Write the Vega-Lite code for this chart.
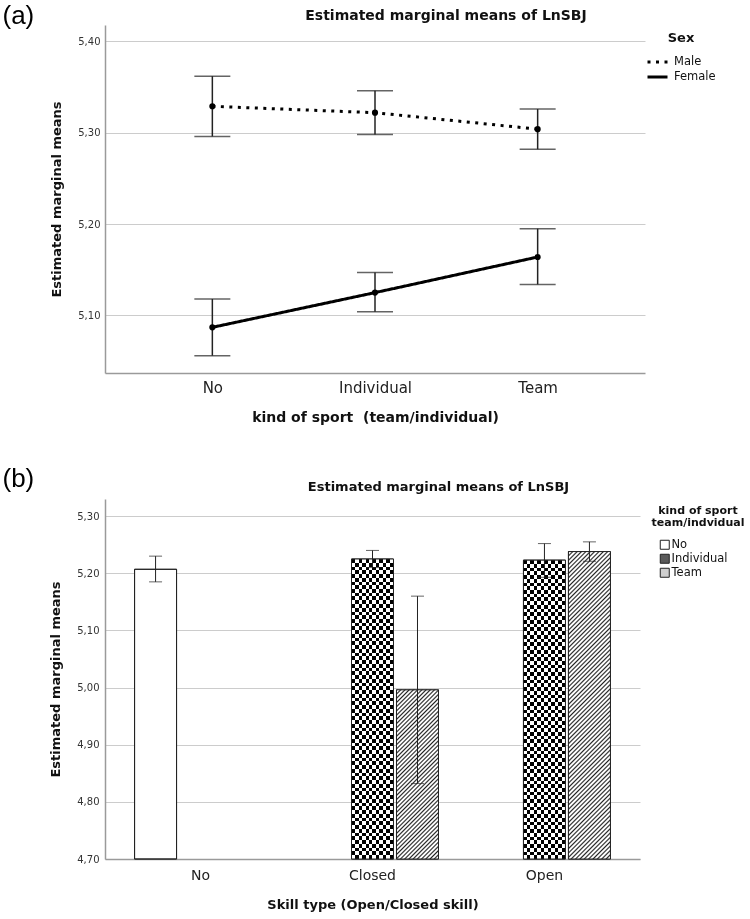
{
  "$schema": "https://vega.github.io/schema/vega-lite/v6.json",
  "padding": {"left": 2, "top": 2, "right": 2, "bottom": 2},
  "background": "white",
  "spacing": 41,
  "resolve": {"legend": {"strokeDash": "independent", "fill": "independent"}},
  "config": {
    "font": "DejaVu Sans",
    "view": {"stroke": null},
    "axis": {"domainColor": "#9a9a9a", "domainWidth": 1.5, "gridColor": "#cccccc", "gridWidth": 1, "labelColor": "#333", "titleColor": "#111", "ticks": false},
    "legend": {"labelColor": "#111", "titleColor": "#111"}
  },
  "vconcat": [
    {
      "width": 540,
      "height": 348,
      "title": {"text": "Estimated marginal means of LnSBJ", "anchor": "middle", "dx": 71, "fontSize": 14, "fontWeight": "bold", "color": "#111", "baseline": "bottom", "offset": -35},
      "data": {"values": [
        {"sex": "Male", "sport": "No", "mean": 5.329, "lo": 5.296, "hi": 5.362},
        {"sex": "Male", "sport": "Individual", "mean": 5.322, "lo": 5.298, "hi": 5.346},
        {"sex": "Male", "sport": "Team", "mean": 5.304, "lo": 5.282, "hi": 5.326},
        {"sex": "Female", "sport": "No", "mean": 5.087, "lo": 5.056, "hi": 5.118},
        {"sex": "Female", "sport": "Individual", "mean": 5.125, "lo": 5.104, "hi": 5.147},
        {"sex": "Female", "sport": "Team", "mean": 5.164, "lo": 5.134, "hi": 5.195}
      ]},
      "layer": [
        {
          "mark": {"type": "rule", "color": "#222", "strokeWidth": 1.5},
          "encoding": {
            "x": {"field": "sport", "type": "nominal", "sort": ["No", "Individual", "Team"], "scale": {"type": "point", "padding": 0.66},
              "axis": {"orient": "bottom", "title": "kind of sport \u00a0(team/individual)", "labelAngle": 0, "labelFontSize": 15, "labelColor": "#222", "labelPadding": 7, "titleFontSize": 14, "titleFontWeight": "bold", "titlePadding": 15, "grid": false}},
            "y": {"field": "lo", "type": "quantitative", "scale": {"domain": [5.037, 5.418], "nice": false, "zero": false},
              "axis": {"title": "Estimated marginal means", "values": [5.1, 5.2, 5.3, 5.4], "labelExpr": "replace(format(datum.value, '.2f'), '.', ',')", "labelFontSize": 10, "labelPadding": 5, "titleFontSize": 13, "titleFontWeight": "bold", "titlePadding": 14, "grid": true}},
            "y2": {"field": "hi"}
          }
        },
        {
          "mark": {"type": "tick", "color": "#222", "size": 36, "thickness": 1.5},
          "encoding": {
            "x": {"field": "sport", "type": "nominal", "sort": ["No", "Individual", "Team"], "scale": {"type": "point", "padding": 0.66}, "axis": null},
            "y": {"field": "lo", "type": "quantitative", "scale": {"domain": [5.037, 5.418], "nice": false, "zero": false},
              "axis": {"title": "Estimated marginal means", "values": [5.1, 5.2, 5.3, 5.4], "labelExpr": "replace(format(datum.value, '.2f'), '.', ',')", "labelFontSize": 10, "labelPadding": 5, "titleFontSize": 13, "titleFontWeight": "bold", "titlePadding": 14, "grid": true}}
          }
        },
        {
          "mark": {"type": "tick", "color": "#222", "size": 36, "thickness": 1.5},
          "encoding": {
            "x": {"field": "sport", "type": "nominal", "sort": ["No", "Individual", "Team"], "scale": {"type": "point", "padding": 0.66}, "axis": null},
            "y": {"field": "hi", "type": "quantitative", "scale": {"domain": [5.037, 5.418], "nice": false, "zero": false},
              "axis": {"title": "Estimated marginal means", "values": [5.1, 5.2, 5.3, 5.4], "labelExpr": "replace(format(datum.value, '.2f'), '.', ',')", "labelFontSize": 10, "labelPadding": 5, "titleFontSize": 13, "titleFontWeight": "bold", "titlePadding": 14, "grid": true}}
          }
        },
        {
          "mark": {"type": "line", "color": "#000", "strokeWidth": 3},
          "encoding": {
            "x": {"field": "sport", "type": "nominal", "sort": ["No", "Individual", "Team"], "scale": {"type": "point", "padding": 0.66}, "axis": null},
            "y": {"field": "mean", "type": "quantitative", "scale": {"domain": [5.037, 5.418], "nice": false, "zero": false},
              "axis": {"title": "Estimated marginal means", "values": [5.1, 5.2, 5.3, 5.4], "labelExpr": "replace(format(datum.value, '.2f'), '.', ',')", "labelFontSize": 10, "labelPadding": 5, "titleFontSize": 13, "titleFontWeight": "bold", "titlePadding": 14, "grid": true}},
            "order": {"value": null},
            "strokeDash": {"field": "sex", "type": "nominal", "sort": ["Male", "Female"], "scale": {"domain": ["Male", "Female"], "range": [[3, 5.5], [1, 0]]},
              "legend": {"orient": "none", "legendX": 541, "legendY": 7, "title": "Sex", "titleFontSize": 13, "titleFontWeight": "bold", "titleAnchor": "middle", "titlePadding": 11, "labelFontSize": 11.5, "symbolType": "stroke", "symbolStrokeColor": "#000", "symbolStrokeWidth": 3, "symbolSize": 400, "clipHeight": 12, "labelOffset": 5, "rowPadding": 3}}
          }
        },
        {
          "mark": {"type": "point", "filled": true, "color": "#000", "opacity": 1, "size": 38},
          "encoding": {
            "x": {"field": "sport", "type": "nominal", "sort": ["No", "Individual", "Team"], "scale": {"type": "point", "padding": 0.66},
              "axis": {"orient": "top", "title": "(a)", "labels": false, "ticks": false, "domain": false, "grid": false, "titleFont": "Liberation Sans", "titleFontSize": 26, "titleFontWeight": "normal", "titleColor": "#000", "titleX": -103, "titleY": -10, "titleAlign": "left", "titleBaseline": "middle", "titleAngle": 0}},
            "y": {"field": "mean", "type": "quantitative", "scale": {"domain": [5.037, 5.418], "nice": false, "zero": false},
              "axis": {"title": "Estimated marginal means", "values": [5.1, 5.2, 5.3, 5.4], "labelExpr": "replace(format(datum.value, '.2f'), '.', ',')", "labelFontSize": 10, "labelPadding": 5, "titleFontSize": 13, "titleFontWeight": "bold", "titlePadding": 14, "grid": true}}
          }
        }
      ],
      "resolve": {"axis": {"x": "independent"}}
    },
    {
      "width": 535,
      "height": 360,
      "title": {"text": "Estimated marginal means of LnSBJ", "anchor": "middle", "dx": 66, "fontSize": 13, "fontWeight": "bold", "color": "#111", "baseline": "bottom", "offset": -42},
      "data": {"values": [
        {"skill": "No", "kind": "No", "mean": 5.207, "lo": 5.185, "hi": 5.230},
        {"skill": "Closed", "kind": "Individual", "mean": 5.225, "lo": 5.210, "hi": 5.240},
        {"skill": "Closed", "kind": "Team", "mean": 4.996, "lo": 4.832, "hi": 5.160},
        {"skill": "Open", "kind": "Individual", "mean": 5.223, "lo": 5.193, "hi": 5.252},
        {"skill": "Open", "kind": "Team", "mean": 5.238, "lo": 5.221, "hi": 5.255}
      ]},
      "layer": [
        {
          "mark": {"type": "bar", "stroke": "#222", "strokeWidth": 1},
          "encoding": {
            "x": {"field": "skill", "type": "nominal", "sort": ["No", "Closed", "Open"], "scale": {"type": "band", "paddingInner": 0.2326, "paddingOuter": 0.172},
              "axis": {"orient": "bottom", "title": "Skill type (Open/Closed skill)", "labelAngle": 0, "labelFontSize": 14, "labelColor": "#222", "labelPadding": 9, "titleFontSize": 13, "titleFontWeight": "bold", "titlePadding": 16, "grid": false}},
            "xOffset": {"field": "kind", "type": "nominal", "sort": ["No", "Individual", "Team"], "scale": {"paddingInner": 0.0667, "paddingOuter": 0}},
            "y": {"field": "mean", "type": "quantitative", "scale": {"domain": [4.7, 5.33], "nice": false, "zero": false},
              "axis": {"title": "Estimated marginal means", "values": [4.7, 4.8, 4.9, 5.0, 5.1, 5.2, 5.3], "labelExpr": "replace(format(datum.value, '.2f'), '.', ',')", "labelFontSize": 10, "labelPadding": 6, "titleFontSize": 13, "titleFontWeight": "bold", "titlePadding": 14, "grid": true}},
            "y2": {"datum": 4.7},
            "fill": {"field": "kind", "type": "nominal", "sort": ["No", "Individual", "Team"], "scale": {"domain": ["No", "Individual", "Team"], "range": ["#ffffff", "#5a5a5a", "#cfcfcf"]},
              "legend": {"orient": "none", "legendX": 547, "legendY": 6, "title": ["kind of sport", "team/indvidual"], "titleFontSize": 11, "titleFontWeight": "bold", "titleLineHeight": 12, "titleAnchor": "middle", "titlePadding": 11, "labelFontSize": 11.5, "symbolType": "square", "symbolSize": 81, "symbolStrokeColor": "#222", "symbolStrokeWidth": 1, "symbolOffset": -10, "labelOffset": 1, "rowPadding": 0}}
          }
        },
        {
          "transform": [{"filter": "datum.kind === 'Individual'"}],
          "mark": {"type": "bar", "strokeWidth": 0, "fill": {"gradient": "linear", "x1": 0, "y1": 0, "x2": 1, "y2": 0, "stops": [
            {"offset": 0, "color": "#000"}, {"offset": 0.0833, "color": "#000"}, {"offset": 0.0833, "color": "#fff"}, {"offset": 0.1667, "color": "#fff"},
            {"offset": 0.1667, "color": "#000"}, {"offset": 0.25, "color": "#000"}, {"offset": 0.25, "color": "#fff"}, {"offset": 0.3333, "color": "#fff"},
            {"offset": 0.3333, "color": "#000"}, {"offset": 0.4167, "color": "#000"}, {"offset": 0.4167, "color": "#fff"}, {"offset": 0.5, "color": "#fff"},
            {"offset": 0.5, "color": "#000"}, {"offset": 0.5833, "color": "#000"}, {"offset": 0.5833, "color": "#fff"}, {"offset": 0.6667, "color": "#fff"},
            {"offset": 0.6667, "color": "#000"}, {"offset": 0.75, "color": "#000"}, {"offset": 0.75, "color": "#fff"}, {"offset": 0.8333, "color": "#fff"},
            {"offset": 0.8333, "color": "#000"}, {"offset": 0.9167, "color": "#000"}, {"offset": 0.9167, "color": "#fff"}, {"offset": 1, "color": "#fff"}
          ]}},
          "encoding": {
            "x": {"field": "skill", "type": "nominal", "sort": ["No", "Closed", "Open"], "scale": {"type": "band", "paddingInner": 0.2326, "paddingOuter": 0.172}, "axis": null},
            "xOffset": {"field": "kind", "type": "nominal", "sort": ["No", "Individual", "Team"], "scale": {"paddingInner": 0.0667, "paddingOuter": 0}},
            "y": {"field": "mean", "type": "quantitative", "scale": {"domain": [4.7, 5.33], "nice": false, "zero": false},
              "axis": {"title": "Estimated marginal means", "values": [4.7, 4.8, 4.9, 5.0, 5.1, 5.2, 5.3], "labelExpr": "replace(format(datum.value, '.2f'), '.', ',')", "labelFontSize": 10, "labelPadding": 6, "titleFontSize": 13, "titleFontWeight": "bold", "titlePadding": 14, "grid": true}},
            "y2": {"datum": 4.7}
          }
        },
        {
          "transform": [{"filter": "datum.kind === 'Individual'"}],
          "mark": {"type": "bar", "strokeWidth": 0, "blend": "difference", "fill": {"gradient": "linear", "x1": 0, "y1": 0, "x2": 0, "y2": 1, "stops": [
            {"offset": 0, "color": "#000"}, {"offset": 0.0125, "color": "#000"}, {"offset": 0.0125, "color": "#fff"}, {"offset": 0.025, "color": "#fff"},
            {"offset": 0.025, "color": "#000"}, {"offset": 0.0375, "color": "#000"}, {"offset": 0.0375, "color": "#fff"}, {"offset": 0.05, "color": "#fff"},
            {"offset": 0.05, "color": "#000"}, {"offset": 0.0625, "color": "#000"}, {"offset": 0.0625, "color": "#fff"}, {"offset": 0.075, "color": "#fff"},
            {"offset": 0.075, "color": "#000"}, {"offset": 0.0875, "color": "#000"}, {"offset": 0.0875, "color": "#fff"}, {"offset": 0.1, "color": "#fff"},
            {"offset": 0.1, "color": "#000"}, {"offset": 0.1125, "color": "#000"}, {"offset": 0.1125, "color": "#fff"}, {"offset": 0.125, "color": "#fff"},
            {"offset": 0.125, "color": "#000"}, {"offset": 0.1375, "color": "#000"}, {"offset": 0.1375, "color": "#fff"}, {"offset": 0.15, "color": "#fff"},
            {"offset": 0.15, "color": "#000"}, {"offset": 0.1625, "color": "#000"}, {"offset": 0.1625, "color": "#fff"}, {"offset": 0.175, "color": "#fff"},
            {"offset": 0.175, "color": "#000"}, {"offset": 0.1875, "color": "#000"}, {"offset": 0.1875, "color": "#fff"}, {"offset": 0.2, "color": "#fff"},
            {"offset": 0.2, "color": "#000"}, {"offset": 0.2125, "color": "#000"}, {"offset": 0.2125, "color": "#fff"}, {"offset": 0.225, "color": "#fff"},
            {"offset": 0.225, "color": "#000"}, {"offset": 0.2375, "color": "#000"}, {"offset": 0.2375, "color": "#fff"}, {"offset": 0.25, "color": "#fff"},
            {"offset": 0.25, "color": "#000"}, {"offset": 0.2625, "color": "#000"}, {"offset": 0.2625, "color": "#fff"}, {"offset": 0.275, "color": "#fff"},
            {"offset": 0.275, "color": "#000"}, {"offset": 0.2875, "color": "#000"}, {"offset": 0.2875, "color": "#fff"}, {"offset": 0.3, "color": "#fff"},
            {"offset": 0.3, "color": "#000"}, {"offset": 0.3125, "color": "#000"}, {"offset": 0.3125, "color": "#fff"}, {"offset": 0.325, "color": "#fff"},
            {"offset": 0.325, "color": "#000"}, {"offset": 0.3375, "color": "#000"}, {"offset": 0.3375, "color": "#fff"}, {"offset": 0.35, "color": "#fff"},
            {"offset": 0.35, "color": "#000"}, {"offset": 0.3625, "color": "#000"}, {"offset": 0.3625, "color": "#fff"}, {"offset": 0.375, "color": "#fff"},
            {"offset": 0.375, "color": "#000"}, {"offset": 0.3875, "color": "#000"}, {"offset": 0.3875, "color": "#fff"}, {"offset": 0.4, "color": "#fff"},
            {"offset": 0.4, "color": "#000"}, {"offset": 0.4125, "color": "#000"}, {"offset": 0.4125, "color": "#fff"}, {"offset": 0.425, "color": "#fff"},
            {"offset": 0.425, "color": "#000"}, {"offset": 0.4375, "color": "#000"}, {"offset": 0.4375, "color": "#fff"}, {"offset": 0.45, "color": "#fff"},
            {"offset": 0.45, "color": "#000"}, {"offset": 0.4625, "color": "#000"}, {"offset": 0.4625, "color": "#fff"}, {"offset": 0.475, "color": "#fff"},
            {"offset": 0.475, "color": "#000"}, {"offset": 0.4875, "color": "#000"}, {"offset": 0.4875, "color": "#fff"}, {"offset": 0.5, "color": "#fff"},
            {"offset": 0.5, "color": "#000"}, {"offset": 0.5125, "color": "#000"}, {"offset": 0.5125, "color": "#fff"}, {"offset": 0.525, "color": "#fff"},
            {"offset": 0.525, "color": "#000"}, {"offset": 0.5375, "color": "#000"}, {"offset": 0.5375, "color": "#fff"}, {"offset": 0.55, "color": "#fff"},
            {"offset": 0.55, "color": "#000"}, {"offset": 0.5625, "color": "#000"}, {"offset": 0.5625, "color": "#fff"}, {"offset": 0.575, "color": "#fff"},
            {"offset": 0.575, "color": "#000"}, {"offset": 0.5875, "color": "#000"}, {"offset": 0.5875, "color": "#fff"}, {"offset": 0.6, "color": "#fff"},
            {"offset": 0.6, "color": "#000"}, {"offset": 0.6125, "color": "#000"}, {"offset": 0.6125, "color": "#fff"}, {"offset": 0.625, "color": "#fff"},
            {"offset": 0.625, "color": "#000"}, {"offset": 0.6375, "color": "#000"}, {"offset": 0.6375, "color": "#fff"}, {"offset": 0.65, "color": "#fff"},
            {"offset": 0.65, "color": "#000"}, {"offset": 0.6625, "color": "#000"}, {"offset": 0.6625, "color": "#fff"}, {"offset": 0.675, "color": "#fff"},
            {"offset": 0.675, "color": "#000"}, {"offset": 0.6875, "color": "#000"}, {"offset": 0.6875, "color": "#fff"}, {"offset": 0.7, "color": "#fff"},
            {"offset": 0.7, "color": "#000"}, {"offset": 0.7125, "color": "#000"}, {"offset": 0.7125, "color": "#fff"}, {"offset": 0.725, "color": "#fff"},
            {"offset": 0.725, "color": "#000"}, {"offset": 0.7375, "color": "#000"}, {"offset": 0.7375, "color": "#fff"}, {"offset": 0.75, "color": "#fff"},
            {"offset": 0.75, "color": "#000"}, {"offset": 0.7625, "color": "#000"}, {"offset": 0.7625, "color": "#fff"}, {"offset": 0.775, "color": "#fff"},
            {"offset": 0.775, "color": "#000"}, {"offset": 0.7875, "color": "#000"}, {"offset": 0.7875, "color": "#fff"}, {"offset": 0.8, "color": "#fff"},
            {"offset": 0.8, "color": "#000"}, {"offset": 0.8125, "color": "#000"}, {"offset": 0.8125, "color": "#fff"}, {"offset": 0.825, "color": "#fff"},
            {"offset": 0.825, "color": "#000"}, {"offset": 0.8375, "color": "#000"}, {"offset": 0.8375, "color": "#fff"}, {"offset": 0.85, "color": "#fff"},
            {"offset": 0.85, "color": "#000"}, {"offset": 0.8625, "color": "#000"}, {"offset": 0.8625, "color": "#fff"}, {"offset": 0.875, "color": "#fff"},
            {"offset": 0.875, "color": "#000"}, {"offset": 0.8875, "color": "#000"}, {"offset": 0.8875, "color": "#fff"}, {"offset": 0.9, "color": "#fff"},
            {"offset": 0.9, "color": "#000"}, {"offset": 0.9125, "color": "#000"}, {"offset": 0.9125, "color": "#fff"}, {"offset": 0.925, "color": "#fff"},
            {"offset": 0.925, "color": "#000"}, {"offset": 0.9375, "color": "#000"}, {"offset": 0.9375, "color": "#fff"}, {"offset": 0.95, "color": "#fff"},
            {"offset": 0.95, "color": "#000"}, {"offset": 0.9625, "color": "#000"}, {"offset": 0.9625, "color": "#fff"}, {"offset": 0.975, "color": "#fff"},
            {"offset": 0.975, "color": "#000"}, {"offset": 0.9875, "color": "#000"}, {"offset": 0.9875, "color": "#fff"}, {"offset": 1, "color": "#fff"}
          ]}},
          "encoding": {
            "x": {"field": "skill", "type": "nominal", "sort": ["No", "Closed", "Open"], "scale": {"type": "band", "paddingInner": 0.2326, "paddingOuter": 0.172}, "axis": null},
            "xOffset": {"field": "kind", "type": "nominal", "sort": ["No", "Individual", "Team"], "scale": {"paddingInner": 0.0667, "paddingOuter": 0}},
            "y": {"field": "mean", "type": "quantitative", "scale": {"domain": [4.7, 5.33], "nice": false, "zero": false},
              "axis": {"title": "Estimated marginal means", "values": [4.7, 4.8, 4.9, 5.0, 5.1, 5.2, 5.3], "labelExpr": "replace(format(datum.value, '.2f'), '.', ',')", "labelFontSize": 10, "labelPadding": 6, "titleFontSize": 13, "titleFontWeight": "bold", "titlePadding": 14, "grid": true}},
            "y2": {"datum": 4.7}
          }
        },
        {
          "transform": [{"filter": "datum.kind === 'Team' && datum.skill === 'Open'"}],
          "mark": {"type": "bar", "strokeWidth": 0, "fill": {"gradient": "linear", "x1": 0, "y1": 0, "x2": 0.1525, "y2": 1.116, "stops": [
            {"offset": 0, "color": "#222"}, {"offset": 0.0045, "color": "#fff"}, {"offset": 0.008, "color": "#fff"}, {"offset": 0.0125, "color": "#222"}, {"offset": 0.017, "color": "#fff"}, {"offset": 0.0205, "color": "#fff"}, {"offset": 0.025, "color": "#222"}, {"offset": 0.0295, "color": "#fff"}, {"offset": 0.033, "color": "#fff"}, {"offset": 0.0375, "color": "#222"}, {"offset": 0.042, "color": "#fff"}, {"offset": 0.0455, "color": "#fff"},
            {"offset": 0.05, "color": "#222"}, {"offset": 0.0545, "color": "#fff"}, {"offset": 0.058, "color": "#fff"}, {"offset": 0.0625, "color": "#222"}, {"offset": 0.067, "color": "#fff"}, {"offset": 0.0705, "color": "#fff"}, {"offset": 0.075, "color": "#222"}, {"offset": 0.0795, "color": "#fff"}, {"offset": 0.083, "color": "#fff"}, {"offset": 0.0875, "color": "#222"}, {"offset": 0.092, "color": "#fff"}, {"offset": 0.0955, "color": "#fff"},
            {"offset": 0.1, "color": "#222"}, {"offset": 0.1045, "color": "#fff"}, {"offset": 0.108, "color": "#fff"}, {"offset": 0.1125, "color": "#222"}, {"offset": 0.117, "color": "#fff"}, {"offset": 0.1205, "color": "#fff"}, {"offset": 0.125, "color": "#222"}, {"offset": 0.1295, "color": "#fff"}, {"offset": 0.133, "color": "#fff"}, {"offset": 0.1375, "color": "#222"}, {"offset": 0.142, "color": "#fff"}, {"offset": 0.1455, "color": "#fff"},
            {"offset": 0.15, "color": "#222"}, {"offset": 0.1545, "color": "#fff"}, {"offset": 0.158, "color": "#fff"}, {"offset": 0.1625, "color": "#222"}, {"offset": 0.167, "color": "#fff"}, {"offset": 0.1705, "color": "#fff"}, {"offset": 0.175, "color": "#222"}, {"offset": 0.1795, "color": "#fff"}, {"offset": 0.183, "color": "#fff"}, {"offset": 0.1875, "color": "#222"}, {"offset": 0.192, "color": "#fff"}, {"offset": 0.1955, "color": "#fff"},
            {"offset": 0.2, "color": "#222"}, {"offset": 0.2045, "color": "#fff"}, {"offset": 0.208, "color": "#fff"}, {"offset": 0.2125, "color": "#222"}, {"offset": 0.217, "color": "#fff"}, {"offset": 0.2205, "color": "#fff"}, {"offset": 0.225, "color": "#222"}, {"offset": 0.2295, "color": "#fff"}, {"offset": 0.233, "color": "#fff"}, {"offset": 0.2375, "color": "#222"}, {"offset": 0.242, "color": "#fff"}, {"offset": 0.2455, "color": "#fff"},
            {"offset": 0.25, "color": "#222"}, {"offset": 0.2545, "color": "#fff"}, {"offset": 0.258, "color": "#fff"}, {"offset": 0.2625, "color": "#222"}, {"offset": 0.267, "color": "#fff"}, {"offset": 0.2705, "color": "#fff"}, {"offset": 0.275, "color": "#222"}, {"offset": 0.2795, "color": "#fff"}, {"offset": 0.283, "color": "#fff"}, {"offset": 0.2875, "color": "#222"}, {"offset": 0.292, "color": "#fff"}, {"offset": 0.2955, "color": "#fff"},
            {"offset": 0.3, "color": "#222"}, {"offset": 0.3045, "color": "#fff"}, {"offset": 0.308, "color": "#fff"}, {"offset": 0.3125, "color": "#222"}, {"offset": 0.317, "color": "#fff"}, {"offset": 0.3205, "color": "#fff"}, {"offset": 0.325, "color": "#222"}, {"offset": 0.3295, "color": "#fff"}, {"offset": 0.333, "color": "#fff"}, {"offset": 0.3375, "color": "#222"}, {"offset": 0.342, "color": "#fff"}, {"offset": 0.3455, "color": "#fff"},
            {"offset": 0.35, "color": "#222"}, {"offset": 0.3545, "color": "#fff"}, {"offset": 0.358, "color": "#fff"}, {"offset": 0.3625, "color": "#222"}, {"offset": 0.367, "color": "#fff"}, {"offset": 0.3705, "color": "#fff"}, {"offset": 0.375, "color": "#222"}, {"offset": 0.3795, "color": "#fff"}, {"offset": 0.383, "color": "#fff"}, {"offset": 0.3875, "color": "#222"}, {"offset": 0.392, "color": "#fff"}, {"offset": 0.3955, "color": "#fff"},
            {"offset": 0.4, "color": "#222"}, {"offset": 0.4045, "color": "#fff"}, {"offset": 0.408, "color": "#fff"}, {"offset": 0.4125, "color": "#222"}, {"offset": 0.417, "color": "#fff"}, {"offset": 0.4205, "color": "#fff"}, {"offset": 0.425, "color": "#222"}, {"offset": 0.4295, "color": "#fff"}, {"offset": 0.433, "color": "#fff"}, {"offset": 0.4375, "color": "#222"}, {"offset": 0.442, "color": "#fff"}, {"offset": 0.4455, "color": "#fff"},
            {"offset": 0.45, "color": "#222"}, {"offset": 0.4545, "color": "#fff"}, {"offset": 0.458, "color": "#fff"}, {"offset": 0.4625, "color": "#222"}, {"offset": 0.467, "color": "#fff"}, {"offset": 0.4705, "color": "#fff"}, {"offset": 0.475, "color": "#222"}, {"offset": 0.4795, "color": "#fff"}, {"offset": 0.483, "color": "#fff"}, {"offset": 0.4875, "color": "#222"}, {"offset": 0.492, "color": "#fff"}, {"offset": 0.4955, "color": "#fff"},
            {"offset": 0.5, "color": "#222"}, {"offset": 0.5045, "color": "#fff"}, {"offset": 0.508, "color": "#fff"}, {"offset": 0.5125, "color": "#222"}, {"offset": 0.517, "color": "#fff"}, {"offset": 0.5205, "color": "#fff"}, {"offset": 0.525, "color": "#222"}, {"offset": 0.5295, "color": "#fff"}, {"offset": 0.533, "color": "#fff"}, {"offset": 0.5375, "color": "#222"}, {"offset": 0.542, "color": "#fff"}, {"offset": 0.5455, "color": "#fff"},
            {"offset": 0.55, "color": "#222"}, {"offset": 0.5545, "color": "#fff"}, {"offset": 0.558, "color": "#fff"}, {"offset": 0.5625, "color": "#222"}, {"offset": 0.567, "color": "#fff"}, {"offset": 0.5705, "color": "#fff"}, {"offset": 0.575, "color": "#222"}, {"offset": 0.5795, "color": "#fff"}, {"offset": 0.583, "color": "#fff"}, {"offset": 0.5875, "color": "#222"}, {"offset": 0.592, "color": "#fff"}, {"offset": 0.5955, "color": "#fff"},
            {"offset": 0.6, "color": "#222"}, {"offset": 0.6045, "color": "#fff"}, {"offset": 0.608, "color": "#fff"}, {"offset": 0.6125, "color": "#222"}, {"offset": 0.617, "color": "#fff"}, {"offset": 0.6205, "color": "#fff"}, {"offset": 0.625, "color": "#222"}, {"offset": 0.6295, "color": "#fff"}, {"offset": 0.633, "color": "#fff"}, {"offset": 0.6375, "color": "#222"}, {"offset": 0.642, "color": "#fff"}, {"offset": 0.6455, "color": "#fff"},
            {"offset": 0.65, "color": "#222"}, {"offset": 0.6545, "color": "#fff"}, {"offset": 0.658, "color": "#fff"}, {"offset": 0.6625, "color": "#222"}, {"offset": 0.667, "color": "#fff"}, {"offset": 0.6705, "color": "#fff"}, {"offset": 0.675, "color": "#222"}, {"offset": 0.6795, "color": "#fff"}, {"offset": 0.683, "color": "#fff"}, {"offset": 0.6875, "color": "#222"}, {"offset": 0.692, "color": "#fff"}, {"offset": 0.6955, "color": "#fff"},
            {"offset": 0.7, "color": "#222"}, {"offset": 0.7045, "color": "#fff"}, {"offset": 0.708, "color": "#fff"}, {"offset": 0.7125, "color": "#222"}, {"offset": 0.717, "color": "#fff"}, {"offset": 0.7205, "color": "#fff"}, {"offset": 0.725, "color": "#222"}, {"offset": 0.7295, "color": "#fff"}, {"offset": 0.733, "color": "#fff"}, {"offset": 0.7375, "color": "#222"}, {"offset": 0.742, "color": "#fff"}, {"offset": 0.7455, "color": "#fff"},
            {"offset": 0.75, "color": "#222"}, {"offset": 0.7545, "color": "#fff"}, {"offset": 0.758, "color": "#fff"}, {"offset": 0.7625, "color": "#222"}, {"offset": 0.767, "color": "#fff"}, {"offset": 0.7705, "color": "#fff"}, {"offset": 0.775, "color": "#222"}, {"offset": 0.7795, "color": "#fff"}, {"offset": 0.783, "color": "#fff"}, {"offset": 0.7875, "color": "#222"}, {"offset": 0.792, "color": "#fff"}, {"offset": 0.7955, "color": "#fff"},
            {"offset": 0.8, "color": "#222"}, {"offset": 0.8045, "color": "#fff"}, {"offset": 0.808, "color": "#fff"}, {"offset": 0.8125, "color": "#222"}, {"offset": 0.817, "color": "#fff"}, {"offset": 0.8205, "color": "#fff"}, {"offset": 0.825, "color": "#222"}, {"offset": 0.8295, "color": "#fff"}, {"offset": 0.833, "color": "#fff"}, {"offset": 0.8375, "color": "#222"}, {"offset": 0.842, "color": "#fff"}, {"offset": 0.8455, "color": "#fff"},
            {"offset": 0.85, "color": "#222"}, {"offset": 0.8545, "color": "#fff"}, {"offset": 0.858, "color": "#fff"}, {"offset": 0.8625, "color": "#222"}, {"offset": 0.867, "color": "#fff"}, {"offset": 0.8705, "color": "#fff"}, {"offset": 0.875, "color": "#222"}, {"offset": 0.8795, "color": "#fff"}, {"offset": 0.883, "color": "#fff"}, {"offset": 0.8875, "color": "#222"}, {"offset": 0.892, "color": "#fff"}, {"offset": 0.8955, "color": "#fff"},
            {"offset": 0.9, "color": "#222"}, {"offset": 0.9045, "color": "#fff"}, {"offset": 0.908, "color": "#fff"}, {"offset": 0.9125, "color": "#222"}, {"offset": 0.917, "color": "#fff"}, {"offset": 0.9205, "color": "#fff"}, {"offset": 0.925, "color": "#222"}, {"offset": 0.9295, "color": "#fff"}, {"offset": 0.933, "color": "#fff"}, {"offset": 0.9375, "color": "#222"}, {"offset": 0.942, "color": "#fff"}, {"offset": 0.9455, "color": "#fff"},
            {"offset": 0.95, "color": "#222"}, {"offset": 0.9545, "color": "#fff"}, {"offset": 0.958, "color": "#fff"}, {"offset": 0.9625, "color": "#222"}, {"offset": 0.967, "color": "#fff"}, {"offset": 0.9705, "color": "#fff"}, {"offset": 0.975, "color": "#222"}, {"offset": 0.9795, "color": "#fff"}, {"offset": 0.983, "color": "#fff"}, {"offset": 0.9875, "color": "#222"}, {"offset": 0.992, "color": "#fff"}, {"offset": 0.9955, "color": "#fff"},
            {"offset": 1, "color": "#222"}
          ]}},
          "encoding": {
            "x": {"field": "skill", "type": "nominal", "sort": ["No", "Closed", "Open"], "scale": {"type": "band", "paddingInner": 0.2326, "paddingOuter": 0.172}, "axis": null},
            "xOffset": {"field": "kind", "type": "nominal", "sort": ["No", "Individual", "Team"], "scale": {"paddingInner": 0.0667, "paddingOuter": 0}},
            "y": {"field": "mean", "type": "quantitative", "scale": {"domain": [4.7, 5.33], "nice": false, "zero": false},
              "axis": {"title": "Estimated marginal means", "values": [4.7, 4.8, 4.9, 5.0, 5.1, 5.2, 5.3], "labelExpr": "replace(format(datum.value, '.2f'), '.', ',')", "labelFontSize": 10, "labelPadding": 6, "titleFontSize": 13, "titleFontWeight": "bold", "titlePadding": 14, "grid": true}},
            "y2": {"datum": 4.7}
          }
        },
        {
          "transform": [{"filter": "datum.kind === 'Team' && datum.skill === 'Closed'"}],
          "mark": {"type": "bar", "strokeWidth": 0, "fill": {"gradient": "linear", "x1": 0, "y1": 0, "x2": 0.2921, "y2": 1.1757, "stops": [
            {"offset": 0, "color": "#222"}, {"offset": 0.0074, "color": "#fff"}, {"offset": 0.0126, "color": "#fff"}, {"offset": 0.02, "color": "#222"}, {"offset": 0.0274, "color": "#fff"}, {"offset": 0.0326, "color": "#fff"}, {"offset": 0.04, "color": "#222"}, {"offset": 0.0474, "color": "#fff"}, {"offset": 0.0526, "color": "#fff"}, {"offset": 0.06, "color": "#222"}, {"offset": 0.0674, "color": "#fff"}, {"offset": 0.0726, "color": "#fff"}, {"offset": 0.08, "color": "#222"}, {"offset": 0.0874, "color": "#fff"}, {"offset": 0.0926, "color": "#fff"},
            {"offset": 0.1, "color": "#222"}, {"offset": 0.1074, "color": "#fff"}, {"offset": 0.1126, "color": "#fff"}, {"offset": 0.12, "color": "#222"}, {"offset": 0.1274, "color": "#fff"}, {"offset": 0.1326, "color": "#fff"}, {"offset": 0.14, "color": "#222"}, {"offset": 0.1474, "color": "#fff"}, {"offset": 0.1526, "color": "#fff"}, {"offset": 0.16, "color": "#222"}, {"offset": 0.1674, "color": "#fff"}, {"offset": 0.1726, "color": "#fff"}, {"offset": 0.18, "color": "#222"}, {"offset": 0.1874, "color": "#fff"}, {"offset": 0.1926, "color": "#fff"},
            {"offset": 0.2, "color": "#222"}, {"offset": 0.2074, "color": "#fff"}, {"offset": 0.2126, "color": "#fff"}, {"offset": 0.22, "color": "#222"}, {"offset": 0.2274, "color": "#fff"}, {"offset": 0.2326, "color": "#fff"}, {"offset": 0.24, "color": "#222"}, {"offset": 0.2474, "color": "#fff"}, {"offset": 0.2526, "color": "#fff"}, {"offset": 0.26, "color": "#222"}, {"offset": 0.2674, "color": "#fff"}, {"offset": 0.2726, "color": "#fff"}, {"offset": 0.28, "color": "#222"}, {"offset": 0.2874, "color": "#fff"}, {"offset": 0.2926, "color": "#fff"},
            {"offset": 0.3, "color": "#222"}, {"offset": 0.3074, "color": "#fff"}, {"offset": 0.3126, "color": "#fff"}, {"offset": 0.32, "color": "#222"}, {"offset": 0.3274, "color": "#fff"}, {"offset": 0.3326, "color": "#fff"}, {"offset": 0.34, "color": "#222"}, {"offset": 0.3474, "color": "#fff"}, {"offset": 0.3526, "color": "#fff"}, {"offset": 0.36, "color": "#222"}, {"offset": 0.3674, "color": "#fff"}, {"offset": 0.3726, "color": "#fff"}, {"offset": 0.38, "color": "#222"}, {"offset": 0.3874, "color": "#fff"}, {"offset": 0.3926, "color": "#fff"},
            {"offset": 0.4, "color": "#222"}, {"offset": 0.4074, "color": "#fff"}, {"offset": 0.4126, "color": "#fff"}, {"offset": 0.42, "color": "#222"}, {"offset": 0.4274, "color": "#fff"}, {"offset": 0.4326, "color": "#fff"}, {"offset": 0.44, "color": "#222"}, {"offset": 0.4474, "color": "#fff"}, {"offset": 0.4526, "color": "#fff"}, {"offset": 0.46, "color": "#222"}, {"offset": 0.4674, "color": "#fff"}, {"offset": 0.4726, "color": "#fff"}, {"offset": 0.48, "color": "#222"}, {"offset": 0.4874, "color": "#fff"}, {"offset": 0.4926, "color": "#fff"},
            {"offset": 0.5, "color": "#222"}, {"offset": 0.5074, "color": "#fff"}, {"offset": 0.5126, "color": "#fff"}, {"offset": 0.52, "color": "#222"}, {"offset": 0.5274, "color": "#fff"}, {"offset": 0.5326, "color": "#fff"}, {"offset": 0.54, "color": "#222"}, {"offset": 0.5474, "color": "#fff"}, {"offset": 0.5526, "color": "#fff"}, {"offset": 0.56, "color": "#222"}, {"offset": 0.5674, "color": "#fff"}, {"offset": 0.5726, "color": "#fff"}, {"offset": 0.58, "color": "#222"}, {"offset": 0.5874, "color": "#fff"}, {"offset": 0.5926, "color": "#fff"},
            {"offset": 0.6, "color": "#222"}, {"offset": 0.6074, "color": "#fff"}, {"offset": 0.6126, "color": "#fff"}, {"offset": 0.62, "color": "#222"}, {"offset": 0.6274, "color": "#fff"}, {"offset": 0.6326, "color": "#fff"}, {"offset": 0.64, "color": "#222"}, {"offset": 0.6474, "color": "#fff"}, {"offset": 0.6526, "color": "#fff"}, {"offset": 0.66, "color": "#222"}, {"offset": 0.6674, "color": "#fff"}, {"offset": 0.6726, "color": "#fff"}, {"offset": 0.68, "color": "#222"}, {"offset": 0.6874, "color": "#fff"}, {"offset": 0.6926, "color": "#fff"},
            {"offset": 0.7, "color": "#222"}, {"offset": 0.7074, "color": "#fff"}, {"offset": 0.7126, "color": "#fff"}, {"offset": 0.72, "color": "#222"}, {"offset": 0.7274, "color": "#fff"}, {"offset": 0.7326, "color": "#fff"}, {"offset": 0.74, "color": "#222"}, {"offset": 0.7474, "color": "#fff"}, {"offset": 0.7526, "color": "#fff"}, {"offset": 0.76, "color": "#222"}, {"offset": 0.7674, "color": "#fff"}, {"offset": 0.7726, "color": "#fff"}, {"offset": 0.78, "color": "#222"}, {"offset": 0.7874, "color": "#fff"}, {"offset": 0.7926, "color": "#fff"},
            {"offset": 0.8, "color": "#222"}, {"offset": 0.8074, "color": "#fff"}, {"offset": 0.8126, "color": "#fff"}, {"offset": 0.82, "color": "#222"}, {"offset": 0.8274, "color": "#fff"}, {"offset": 0.8326, "color": "#fff"}, {"offset": 0.84, "color": "#222"}, {"offset": 0.8474, "color": "#fff"}, {"offset": 0.8526, "color": "#fff"}, {"offset": 0.86, "color": "#222"}, {"offset": 0.8674, "color": "#fff"}, {"offset": 0.8726, "color": "#fff"}, {"offset": 0.88, "color": "#222"}, {"offset": 0.8874, "color": "#fff"}, {"offset": 0.8926, "color": "#fff"},
            {"offset": 0.9, "color": "#222"}, {"offset": 0.9074, "color": "#fff"}, {"offset": 0.9126, "color": "#fff"}, {"offset": 0.92, "color": "#222"}, {"offset": 0.9274, "color": "#fff"}, {"offset": 0.9326, "color": "#fff"}, {"offset": 0.94, "color": "#222"}, {"offset": 0.9474, "color": "#fff"}, {"offset": 0.9526, "color": "#fff"}, {"offset": 0.96, "color": "#222"}, {"offset": 0.9674, "color": "#fff"}, {"offset": 0.9726, "color": "#fff"}, {"offset": 0.98, "color": "#222"}, {"offset": 0.9874, "color": "#fff"}, {"offset": 0.9926, "color": "#fff"},
            {"offset": 1, "color": "#222"}
          ]}},
          "encoding": {
            "x": {"field": "skill", "type": "nominal", "sort": ["No", "Closed", "Open"], "scale": {"type": "band", "paddingInner": 0.2326, "paddingOuter": 0.172}, "axis": null},
            "xOffset": {"field": "kind", "type": "nominal", "sort": ["No", "Individual", "Team"], "scale": {"paddingInner": 0.0667, "paddingOuter": 0}},
            "y": {"field": "mean", "type": "quantitative", "scale": {"domain": [4.7, 5.33], "nice": false, "zero": false},
              "axis": {"title": "Estimated marginal means", "values": [4.7, 4.8, 4.9, 5.0, 5.1, 5.2, 5.3], "labelExpr": "replace(format(datum.value, '.2f'), '.', ',')", "labelFontSize": 10, "labelPadding": 6, "titleFontSize": 13, "titleFontWeight": "bold", "titlePadding": 14, "grid": true}},
            "y2": {"datum": 4.7}
          }
        },
        {
          "mark": {"type": "bar", "fillOpacity": 0, "stroke": "#222", "strokeWidth": 1},
          "encoding": {
            "x": {"field": "skill", "type": "nominal", "sort": ["No", "Closed", "Open"], "scale": {"type": "band", "paddingInner": 0.2326, "paddingOuter": 0.172}, "axis": null},
            "xOffset": {"field": "kind", "type": "nominal", "sort": ["No", "Individual", "Team"], "scale": {"paddingInner": 0.0667, "paddingOuter": 0}},
            "y": {"field": "mean", "type": "quantitative", "scale": {"domain": [4.7, 5.33], "nice": false, "zero": false},
              "axis": {"title": "Estimated marginal means", "values": [4.7, 4.8, 4.9, 5.0, 5.1, 5.2, 5.3], "labelExpr": "replace(format(datum.value, '.2f'), '.', ',')", "labelFontSize": 10, "labelPadding": 6, "titleFontSize": 13, "titleFontWeight": "bold", "titlePadding": 14, "grid": true}},
            "y2": {"datum": 4.7}
          }
        },
        {
          "mark": {"type": "rule", "color": "#222", "strokeWidth": 1},
          "encoding": {
            "x": {"field": "skill", "type": "nominal", "sort": ["No", "Closed", "Open"], "scale": {"type": "band", "paddingInner": 0.2326, "paddingOuter": 0.172},
              "axis": {"orient": "top", "title": "(b)", "labels": false, "ticks": false, "domain": false, "grid": false, "titleFont": "Liberation Sans", "titleFontSize": 26, "titleFontWeight": "normal", "titleColor": "#000", "titleX": -103, "titleY": -21, "titleAlign": "left", "titleBaseline": "middle", "titleAngle": 0}},
            "xOffset": {"field": "kind", "type": "nominal", "sort": ["No", "Individual", "Team"], "scale": {"paddingInner": 0.0667, "paddingOuter": 0}},
            "y": {"field": "lo", "type": "quantitative", "scale": {"domain": [4.7, 5.33], "nice": false, "zero": false},
              "axis": {"title": "Estimated marginal means", "values": [4.7, 4.8, 4.9, 5.0, 5.1, 5.2, 5.3], "labelExpr": "replace(format(datum.value, '.2f'), '.', ',')", "labelFontSize": 10, "labelPadding": 6, "titleFontSize": 13, "titleFontWeight": "bold", "titlePadding": 14, "grid": true}},
            "y2": {"field": "hi"}
          }
        },
        {
          "mark": {"type": "tick", "color": "#222", "size": 13, "thickness": 1},
          "encoding": {
            "x": {"field": "skill", "type": "nominal", "sort": ["No", "Closed", "Open"], "scale": {"type": "band", "paddingInner": 0.2326, "paddingOuter": 0.172}, "axis": null},
            "xOffset": {"field": "kind", "type": "nominal", "sort": ["No", "Individual", "Team"], "scale": {"paddingInner": 0.0667, "paddingOuter": 0}},
            "y": {"field": "lo", "type": "quantitative", "scale": {"domain": [4.7, 5.33], "nice": false, "zero": false},
              "axis": {"title": "Estimated marginal means", "values": [4.7, 4.8, 4.9, 5.0, 5.1, 5.2, 5.3], "labelExpr": "replace(format(datum.value, '.2f'), '.', ',')", "labelFontSize": 10, "labelPadding": 6, "titleFontSize": 13, "titleFontWeight": "bold", "titlePadding": 14, "grid": true}}
          }
        },
        {
          "mark": {"type": "tick", "color": "#222", "size": 13, "thickness": 1},
          "encoding": {
            "x": {"field": "skill", "type": "nominal", "sort": ["No", "Closed", "Open"], "scale": {"type": "band", "paddingInner": 0.2326, "paddingOuter": 0.172}, "axis": null},
            "xOffset": {"field": "kind", "type": "nominal", "sort": ["No", "Individual", "Team"], "scale": {"paddingInner": 0.0667, "paddingOuter": 0}},
            "y": {"field": "hi", "type": "quantitative", "scale": {"domain": [4.7, 5.33], "nice": false, "zero": false},
              "axis": {"title": "Estimated marginal means", "values": [4.7, 4.8, 4.9, 5.0, 5.1, 5.2, 5.3], "labelExpr": "replace(format(datum.value, '.2f'), '.', ',')", "labelFontSize": 10, "labelPadding": 6, "titleFontSize": 13, "titleFontWeight": "bold", "titlePadding": 14, "grid": true}}
          }
        }
      ],
      "resolve": {"axis": {"x": "independent"}}
    }
  ]
}
